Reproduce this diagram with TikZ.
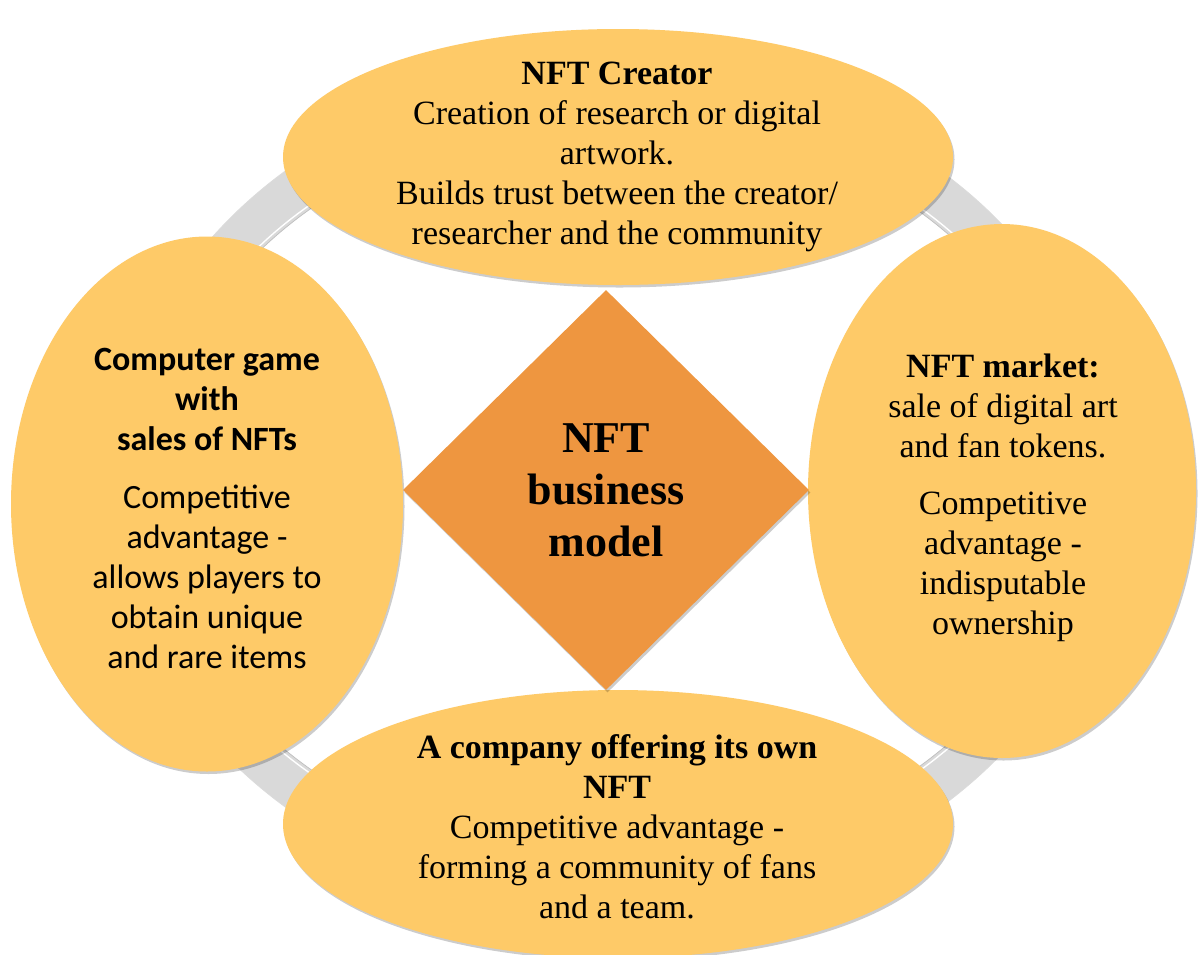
\documentclass[tikz,border=0pt]{standalone}
\usepackage{fontspec}
\setmainfont{Liberation Serif}
\newfontfamily\calfont{Carlito}
\usetikzlibrary{shapes.geometric,shadows}
\definecolor{ellfill}{HTML}{FECA68}
\definecolor{diafill}{HTML}{EE9640}
\definecolor{ringgrey}{HTML}{D9D9D9}
\tikzset{
  bubble/.style={ellipse, fill=ellfill, draw=none, inner sep=0pt,
    drop shadow={shadow xshift=1.5pt, shadow yshift=-2.5pt, opacity=0.2, fill=black}},
  bodytext/.style={align=center, font=\fontsize{34}{40}\selectfont, text=black},
  calbody/.style={align=center, font=\calfont\fontsize{34}{40}\selectfont, text=black},
  centrebox/.style={diamond, fill=diafill, draw=none, inner sep=0pt,
    minimum width=406pt, minimum height=400pt, align=center,
    font=\fontsize{44}{52}\selectfont\bfseries,
    drop shadow={shadow xshift=1.5pt, shadow yshift=-2.5pt, opacity=0.2, fill=black}}
}
\begin{document}
\begin{tikzpicture}[x=1pt,y=-1pt]
\useasboundingbox (0,0) rectangle (1198,954);
\fill[white] (0,0) rectangle (1198,954);
% ring
\coordinate (ringc) at (613,489);
\fill[ringgrey, even odd rule] (ringc) ellipse [x radius=500, y radius=421]
                               (ringc) ellipse [x radius=460, y radius=372];
\draw[black!25, line width=0.7pt] (ringc) ellipse [x radius=460, y radius=372];
\draw[white, line width=1.4pt] (ringc) ellipse [x radius=463.5, y radius=375.5];
\draw[black!14, line width=0.8pt] (ringc) ellipse [x radius=500, y radius=421];
% bubbles
\node[bubble, minimum width=670pt, minimum height=256pt] (creator) at (618,157) {};
\node[bubble, minimum width=392pt, minimum height=535pt] (game) at (207,504) {};
\node[bubble, minimum width=388pt, minimum height=534pt] (market) at (1002,491) {};
\node[bubble, minimum width=670pt, minimum height=268pt] (company) at (618,824) {};
% centre
\node[centrebox] (model) at (606,490) {NFT\\business\\model};
% texts
\node[bodytext] (creatortext) at (617,157) {\textbf{NFT Creator}\\Creation of research or digital\\artwork.\\Builds trust between the creator/\\researcher and the community};
\node[calbody] (gametext) at (207,508) {\textbf{Computer game}\\\textbf{with}\\\textbf{sales of NFTs}\\[18pt]Competitive\\advantage -\\allows players to\\obtain unique\\and rare items};
\node[bodytext] (markettext) at (1003,498) {\textbf{NFT market:}\\sale of digital art\\and fan tokens.\\[17pt]Competitive\\advantage -\\indisputable\\ownership};
\node[bodytext] (companytext) at (617,827) {\textbf{A company offering its own}\\\textbf{NFT}\\Competitive advantage -\\forming a community of fans\\and a team.};
\end{tikzpicture}
\end{document}
